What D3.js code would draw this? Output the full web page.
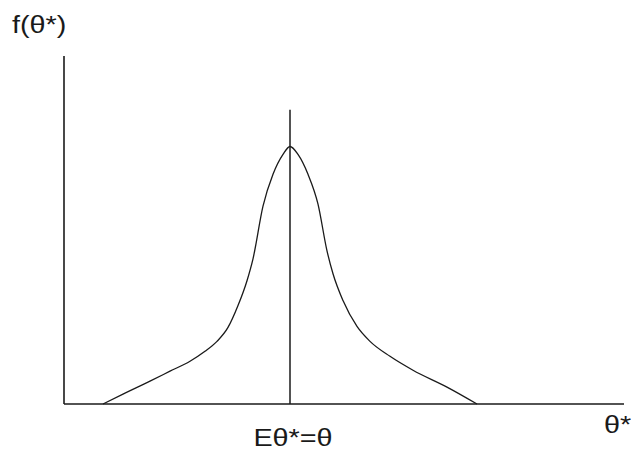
<!DOCTYPE html>
<html>
<head>
<meta charset="utf-8">
<script src="https://cdn.jsdelivr.net/npm/d3@7"></script>
<style>
  html, body { margin: 0; padding: 0; background: #fff; }
  svg { display: block; }
  text { font-family: Arial, "Liberation Sans", sans-serif; fill: #1a1a1a; }
</style>
</head>
<body>
<svg id="chart" width="631" height="450"></svg>
<script>
// Sampling distribution of the estimator θ*, centred on its expectation.
// θ* offset from the mean (in arbitrary units)
const thetaStar = [-3.74, -3.34, -2.80, -2.40, -2.00, -1.70, -1.46, -1.24, -1.04, -0.86, -0.74, -0.54, -0.34, -0.14, 0.00,
                    0.16, 0.36, 0.56, 0.74, 0.86, 1.06, 1.34, 1.60, 2.00, 2.46, 3.14, 3.74];
// density f(θ*) at each point
const density   = [0.00, 0.20, 0.46, 0.66, 0.86, 1.06, 1.26, 1.54, 1.98, 2.48, 2.92, 3.98, 4.62, 5.02, 5.18,
                    5.02, 4.62, 4.02, 3.08, 2.62, 2.08, 1.56, 1.26, 0.96, 0.68, 0.34, 0.00];

const xDomain = [-4.52, 6.68];
const yDomain = [0, 7];
const meanLineTop = 5.92;          // height reached by the vertical line at the mean

const axisLabels = { y: "f(θ*)", x: "θ*", mean: "Eθ*=θ" };

const svg = d3.select("#chart");
const x = d3.scaleLinear().domain(xDomain).range([64, 624]);
const y = d3.scaleLinear().domain(yDomain).range([404, 56]);

const ink = "#1a1a1a";

// axes (plain lines, no ticks)
svg.append("line")
  .attr("x1", x(xDomain[0])).attr("x2", x(xDomain[0]))
  .attr("y1", y(yDomain[0])).attr("y2", y(yDomain[1]))
  .attr("stroke", ink).attr("stroke-width", 1.6);
svg.append("line")
  .attr("x1", x(xDomain[0])).attr("x2", x(xDomain[1]))
  .attr("y1", y(0)).attr("y2", y(0))
  .attr("stroke", ink).attr("stroke-width", 1.6);

// vertical line at the expected value
svg.append("line")
  .attr("x1", x(0)).attr("x2", x(0))
  .attr("y1", y(0)).attr("y2", y(meanLineTop))
  .attr("stroke", ink).attr("stroke-width", 1.5);

// density curve
const line = d3.line()
  .x((d, i) => x(thetaStar[i]))
  .y(d => y(d))
  .curve(d3.curveMonotoneX);
svg.append("path")
  .attr("d", line(density))
  .attr("fill", "none")
  .attr("stroke", ink)
  .attr("stroke-width", 1.3);

// labels (slightly wide lettering)
function label(text, px, py, anchor) {
  svg.append("text")
    .attr("transform", `translate(${px},${py}) scale(1.2,1)`)
    .attr("text-anchor", anchor)
    .attr("font-size", 24)
    .text(text);
}
label(axisLabels.y, 12, 33, "start");
label(axisLabels.mean, x(0) + 3, 446, "middle");
label(axisLabels.x, 604, 433, "start");
</script>
</body>
</html>
